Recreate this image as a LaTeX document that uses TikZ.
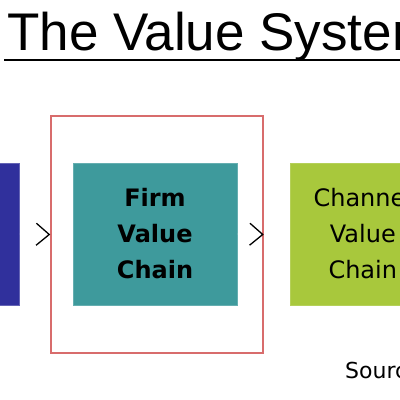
\documentclass[tikz,border=0pt]{standalone}
\usepackage{fontspec}
\setmainfont{Liberation Sans}
\newfontfamily\chainfont{DejaVu Sans}
\usetikzlibrary{arrows.meta, positioning}

\definecolor{supplierblue}{HTML}{30309C}
\definecolor{firmteal}{HTML}{3E9A9C}
\definecolor{channelgreen}{HTML}{A8C83C}
\definecolor{framered}{HTML}{D86C6C}

\begin{document}
\begin{tikzpicture}[x=1pt, y=-1pt, node distance=53pt,
    font=\chainfont\fontsize{24}{36}\selectfont]
  \tikzstyle{chain}=[draw, align=center, minimum width=164pt, minimum height=142pt, inner sep=0pt, line width=0.8pt]
  \tikzstyle{flow}=[draw=white, -{Straight Barb[length=13pt, width=22pt, line width=1.3pt, color=black]}]
  \useasboundingbox (0,0) rectangle (400,400);

  % title
  \node[anchor=base west, inner sep=0pt, font=\fontsize{53}{60}\selectfont] (title) at (7,50) {The Value System};
  \draw[line width=1.5pt] (4,60) -- (400,60);

  % chains
  \node[chain, fill=firmteal, draw=firmteal!80!white] (firm) at (155,234) {\bfseries Firm\\\bfseries Value\\\bfseries Chain};
  \node[chain, fill=supplierblue, draw=supplierblue!75!white, left=of firm] (supplier) {};
  \node[chain, fill=channelgreen, draw=channelgreen!85!white, minimum width=144pt, right=of firm] (channel) {Channel\\Value\\Chain};

  % frame round the firm
  \node[draw=framered, line width=1.5pt, minimum width=212pt, minimum height=237pt, inner sep=0pt] (frame) at (157,234.5) {};

  % source
  \node[anchor=base west, inner sep=0pt, font=\chainfont\fontsize{22}{26}\selectfont] (source) at (345,378) {Source};

  % arrows
  \draw[flow] (supplier.east) -- (frame.west);
  \draw[flow] (firm.east) -- (frame.east);

\end{tikzpicture}
\end{document}
